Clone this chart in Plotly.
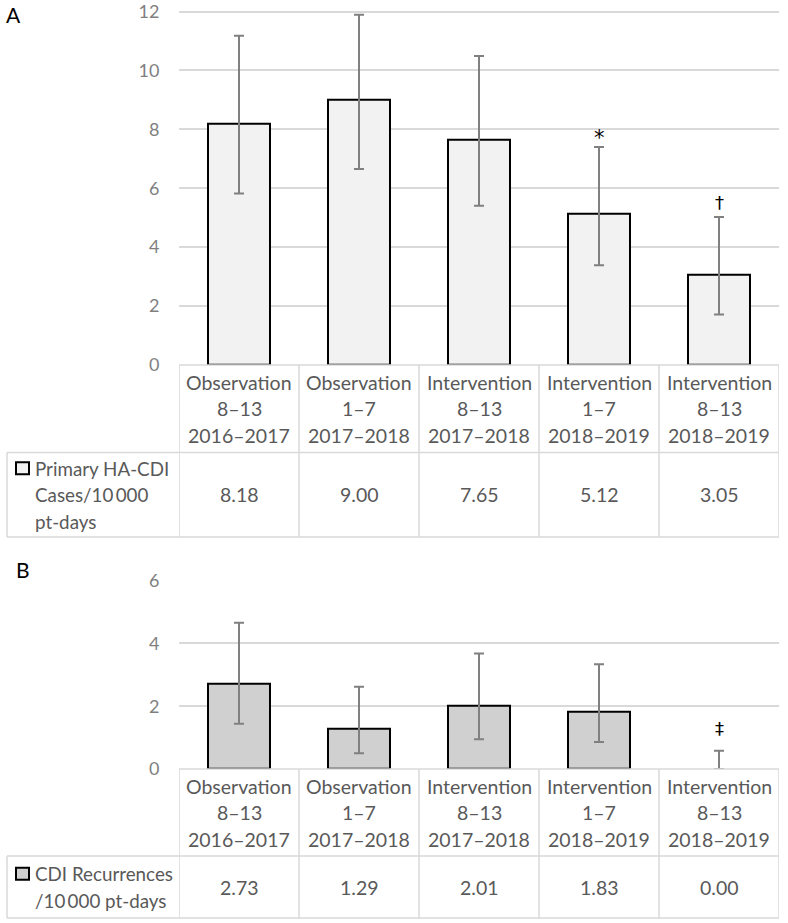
import plotly.graph_objects as go

# ---------------- data ----------------
phases = ["Observation", "Observation", "Intervention", "Intervention", "Intervention"]
grades = ["8–13", "1–7", "8–13", "1–7", "8–13"]
years = ["2016–2017", "2017–2018", "2017–2018", "2018–2019", "2018–2019"]

rate_a = [8.18, 9.00, 7.65, 5.12, 3.05]
upper_a = [11.18, 11.89, 10.49, 7.40, 5.02]
lower_a = [5.82, 6.65, 5.41, 3.39, 1.71]
sig_a = ["", "", "", "*", "†"]

rate_b = [2.73, 1.29, 2.01, 1.83, 0.00]
upper_b = [4.66, 2.62, 3.68, 3.34, 0.58]
lower_b = [1.44, 0.50, 0.95, 0.86, 0.00]
sig_b = ["", "", "", "", "‡"]

label_a = ["Primary HA-CDI", "Cases/10\u2009000", "pt-days"]
label_b = ["CDI Recurrences", "/10\u2009000 pt-days"]

yticks_a = [0, 2, 4, 6, 8, 10, 12]
yticks_b = [0, 2, 4, 6]

categories = [f"{p} {g} {y}" for p, g, y in zip(phases, grades, years)]

# ---------------- styling / layout helpers ----------------
W, H = 788, 923
FONT = "Lato"
TXT = "#595959"
GRID = "#d9d9d9"
FILL_A = "#f2f2f2"
FILL_B = "#d0d0d0"
TABLE_FS = 19.5
LABEL_FS = 18.8
LINE_H = 26.5
SIG_SHIFT = {"*": 9, "†": 15, "‡": 22}  # px above the error-bar cap (glyph centre)
SIG_SIZE = {"*": 21, "†": 18, "‡": 18}


def py(p):  # pixel y -> paper
    return 1 - p / H


def px(p):  # pixel x -> paper
    return p / W


X0, X1 = 179, 779

fig = go.Figure()


def add_panel(rates, upper, lower, sig, fill, xa, ya):
    fig.add_trace(go.Bar(
        x=categories, y=rates, xaxis=xa, yaxis=ya, width=0.52,
        marker=dict(color=fill,
                    line=dict(color="black", width=[2 if v > 0 else 0 for v in rates])),
        error_y=dict(type="data", symmetric=False,
                     array=[u - v for u, v in zip(upper, rates)],
                     arrayminus=[v - l for v, l in zip(rates, lower)],
                     color="#808080", thickness=2, width=5),
        showlegend=False, hoverinfo="skip",
    ))
    for c, u, s in zip(categories, upper, sig):
        if s:
            fig.add_annotation(x=c, y=u, xref=xa, yref=ya, text=s, showarrow=False,
                               xanchor="center", yanchor="middle", yshift=SIG_SHIFT[s],
                               font=dict(family="DejaVu Sans", size=SIG_SIZE[s],
                                         color="black"))


add_panel(rate_a, upper_a, lower_a, sig_a, FILL_A, "x", "y")
add_panel(rate_b, upper_b, lower_b, sig_b, FILL_B, "x2", "y2")

axis_common_x = dict(range=[-0.5, 4.5], showgrid=False, showticklabels=False,
                     zeroline=False, showline=False, fixedrange=True, automargin=False)
axis_common_y = dict(showgrid=True, gridcolor=GRID, gridwidth=1.5, zeroline=False,
                     showline=False, ticks="outside", ticklen=15, automargin=False,
                     tickcolor="rgba(0,0,0,0)", ticklabeloverflow="allow",
                     fixedrange=True,
                     tickfont=dict(family=FONT, size=18, color="#7f7f7f"))

# panel A: 0 at 365px, 12 at 11.5px ; panel B: 0 at 769px, 6 at 580.7px
ppu_a = (365 - 11.5) / 12
ppu_b = (769 - 580.7) / 6
top_a, top_b = 12.06, 6.03

fig.update_layout(
    width=W, height=H, margin=dict(l=0, r=0, t=0, b=0, autoexpand=False),
    plot_bgcolor="white", paper_bgcolor="white", bargap=0,
    xaxis=dict(domain=[px(X0), px(X1)], **axis_common_x),
    yaxis=dict(domain=[py(365), py(365 - top_a * ppu_a)], range=[0, top_a],
               tickvals=yticks_a, **axis_common_y),
    xaxis2=dict(domain=[px(X0), px(X1)], anchor="y2", **axis_common_x),
    yaxis2=dict(domain=[py(769), py(769 - top_b * ppu_b)], range=[0, top_b],
                tickvals=yticks_b, anchor="x2", **axis_common_y),
)


def lines_at(center, n):
    return [center + (k - (n - 1) / 2) * LINE_H for k in range(n)]


def add_table(xa, top, mid, bot, rates, label, fill):
    line = dict(color=GRID, width=1.5)
    fig.add_shape(type="line", xref=f"{xa} domain", yref="paper", x0=0, x1=1,
                  y0=py(top), y1=py(top), line=line)
    for yy in (mid, bot):
        fig.add_shape(type="line", xref="paper", yref="paper", x0=px(7), x1=px(X1),
                      y0=py(yy), y1=py(yy), line=line)
    for i in range(6):
        fig.add_shape(type="line", xref=xa, yref="paper", x0=i - 0.5, x1=i - 0.5,
                      y0=py(top), y1=py(bot), line=line)
    fig.add_shape(type="line", xref="paper", yref="paper", x0=px(7), x1=px(7),
                  y0=py(mid), y1=py(bot), line=line)
    hc = (top + mid) / 2
    dc = (mid + bot) / 2
    for c, p, g, yr, v in zip(categories, phases, grades, years, rates):
        for txt, yy in zip((p, g, yr), lines_at(hc, 3)):
            fig.add_annotation(x=c, xref=xa, yref="paper", y=py(yy), text=txt,
                               showarrow=False, xanchor="center", yanchor="middle",
                               font=dict(family=FONT, size=TABLE_FS, color=TXT))
        fig.add_annotation(x=c, xref=xa, yref="paper", y=py(dc), text=f"{v:.2f}",
                           showarrow=False, xanchor="center", yanchor="middle",
                           font=dict(family=FONT, size=TABLE_FS, color=TXT))
    ly = lines_at(dc, len(label))
    fig.add_shape(type="rect", xref="paper", yref="paper", x0=px(16), x1=px(29),
                  y0=py(ly[0] + 6), y1=py(ly[0] - 6), fillcolor=fill,
                  line=dict(color="black", width=2))
    for txt, yy in zip(label, ly):
        fig.add_annotation(x=px(33), y=py(yy), xref="paper", yref="paper", text=txt,
                           showarrow=False, xanchor="left", yanchor="middle",
                           font=dict(family=FONT, size=LABEL_FS, color=TXT))


add_table("x", 365, 452.5, 537, rate_a, label_a, FILL_A)
add_table("x2", 769, 856, 918, rate_b, label_b, FILL_B)

fig.add_annotation(x=px(4), y=py(15), xref="paper", yref="paper", text="A",
                   showarrow=False, xanchor="left", yanchor="middle",
                   font=dict(family=FONT, size=21, color="black"))
fig.add_annotation(x=px(14), y=py(569), xref="paper", yref="paper", text="B",
                   showarrow=False, xanchor="left", yanchor="middle",
                   font=dict(family=FONT, size=21, color="black"))

fig.write_html("out.html", config={"displayModeBar": False},
               post_script="document.body.style.margin='0';")
